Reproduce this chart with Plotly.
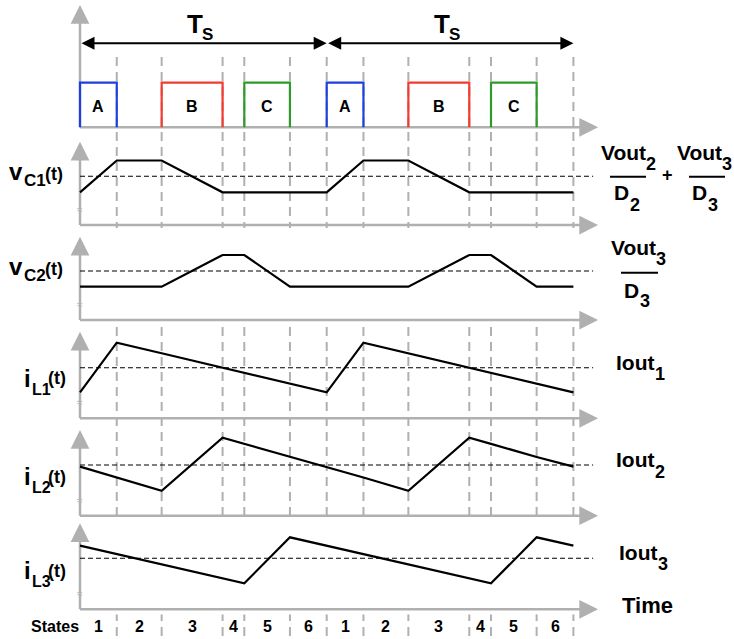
import plotly.graph_objects as go

# ---------------------------------------------------------------
# Switching-state timing diagram of a three-output converter
# Time axis is in units of the switching period Ts.
# ---------------------------------------------------------------

W, H = 734, 639

# state boundaries inside one period (fraction of Ts)
t_edges = [0.0, 0.149, 0.331, 0.578, 0.666, 0.851, 1.0]
n_periods = 2
state_labels = ["1", "2", "3", "4", "5", "6"]

# gate intervals: (label, start edge index, end edge index, colour)
gate_pulses = [("A", 0, 1, "#1c3fe0"), ("B", 2, 3, "#f23a2e"), ("C", 4, 5, "#2e9a2a")]
gate_level = 0.52

# waveform values at each state boundary (normalised panel units)
vc1 = [0.38, 0.75, 0.75, 0.38, 0.38, 0.38, 0.38]
vc2 = [0.387, 0.387, 0.387, 0.756, 0.756, 0.387, 0.387]
il1 = [0.302, 0.879, 0.756, 0.588, 0.529, 0.403, 0.302]
il2 = [0.57, 0.444, 0.29, 0.907, 0.835, 0.683, 0.57]
il3 = [0.74, 0.641, 0.521, 0.359, 0.302, 0.837, 0.74]

# average levels (dashed references)
vc1_avg, vc2_avg = 0.566, 0.57
il1_avg, il2_avg, il3_avg = 0.588, 0.59, 0.593

FONT = "Liberation Sans, Arial, Helvetica, sans-serif"
AX_GREY = "#b0b0b0"
PX_PER_UNIT = 86.0              # vertical pixels per normalised unit
X_LEFT_PX, TS_PX = 80.0, 246.7  # pixel of t=0 and pixels per period
T_END = 2.1                     # end of time-axis arrow
PAD = 0.06                      # small room below each baseline
HEAD_T = 0.05                   # arrowhead stub length along time
HEAD_Y = 12 / PX_PER_UNIT       # arrowhead stub length along value
SUB_KERN = 1.5                  # pull an index towards its main text (px)

# panel baselines (pixels from top) and axis-arrow heights (pixels)
baselines = [127.3, 225.0, 320.0, 418.3, 515.7, 609.3]
arrow_tops = [122.3, 83.3, 83.3, 86.6, 85.7, 86.0]
panel_px = [127.3, 92, 92, 92, 92, 92]


def paper_y(px):
    return 1 - px / H


x_range = [-X_LEFT_PX / TS_PX, (W - X_LEFT_PX) / TS_PX]

fig = go.Figure()
layout_axes = {}
layout_axes["xaxis"] = dict(domain=[0, 1], range=x_range, visible=False, fixedrange=True)
for i, (b, hp) in enumerate(zip(baselines, panel_px)):
    name = "yaxis" if i == 0 else f"yaxis{i + 1}"
    layout_axes[name] = dict(
        domain=[paper_y(b + PAD * PX_PER_UNIT), min(1.0, paper_y(b - hp))],
        range=[-PAD, hp / PX_PER_UNIT],
        visible=False,
        anchor="x",
        fixedrange=True,
    )


def yref(i):
    return "y" if i == 0 else f"y{i + 1}"


def periodic(values):
    ts, ys = [], []
    for p in range(n_periods):
        for k, (t, v) in enumerate(zip(t_edges, values)):
            if p > 0 and k == 0:
                continue
            ts.append(p + t)
            ys.append(v)
    return ts, ys


annotations = []
shapes = []


def label(text, x, baseline, size, xanchor="left", xref="paper"):
    """Bold text placed by its x anchor and its baseline (pixels)."""
    xv = x / W if xref == "paper" else x
    annotations.append(dict(
        x=xv, y=paper_y(baseline - 0.35 * size), xref=xref, yref="paper",
        xanchor=xanchor, yanchor="middle", text=f"<b>{text}</b>", borderpad=0,
        showarrow=False, font=dict(family=FONT, size=size, color="black")))


def with_sub(main, sub, x_join, base, sub_base, size, sub_size):
    """Main text ending at x_join followed by a lowered index."""
    label(main, x_join, base, size, xanchor="right")
    label(sub, x_join - SUB_KERN, sub_base, sub_size, xanchor="left")


# ---- state boundary markers (dashed verticals through all panels)
for p in range(n_periods):
    for t in t_edges[1:]:
        shapes.append(dict(type="line", xref="x", yref="paper",
                           x0=p + t, x1=p + t, y0=paper_y(57), y1=0,
                           line=dict(color=AX_GREY, width=2, dash="9px,6px"),
                           layer="below"))

# ---- axes: lines under the traces, arrowheads on top
for i, (b, top) in enumerate(zip(baselines, arrow_tops)):
    yr = yref(i)
    ytop = top / PX_PER_UNIT
    shapes.append(dict(type="line", xref="x", yref=yr, x0=0, x1=T_END - HEAD_T,
                       y0=0, y1=0, line=dict(color=AX_GREY, width=2.5), layer="below"))
    shapes.append(dict(type="line", xref="x", yref=yr, x0=0, x1=0,
                       y0=0, y1=ytop - HEAD_Y, line=dict(color=AX_GREY, width=2.5),
                       layer="below"))
    annotations.append(dict(x=T_END, y=0, ax=T_END - HEAD_T, ay=0, xref="x", yref=yr,
                            axref="x", ayref=yr, text="", showarrow=True,
                            arrowhead=2, arrowsize=1.5, arrowwidth=2.5,
                            arrowcolor=AX_GREY, standoff=0, startstandoff=0))
    annotations.append(dict(x=0, y=ytop, ax=0, ay=ytop - HEAD_Y, xref="x", yref=yr,
                            axref="x", ayref=yr, text="", showarrow=True,
                            arrowhead=2, arrowsize=1.5, arrowwidth=2.5,
                            arrowcolor=AX_GREY, standoff=0, startstandoff=0))
    if i > 0:
        annotations.append(dict(x=0, y=15.5 / PX_PER_UNIT, xref="x", yref=yr,
                                xanchor="center", yanchor="middle",
                                text="≈", showarrow=False,
                                font=dict(family=FONT, size=10, color=AX_GREY)))

# ---- gate pulses (panel 0)
for p in range(n_periods):
    for lab, a, b, col in gate_pulses:
        t0, t1 = p + t_edges[a], p + t_edges[b]
        fig.add_trace(go.Scatter(
            x=[t0, t0, t1, t1], y=[0, gate_level, gate_level, 0],
            mode="lines", line=dict(color=col, width=2.2),
            yaxis="y", hoverinfo="skip", showlegend=False))
        label(lab, (t0 + t1) / 2, 111.7, 16, xanchor="center", xref="x")

# ---- dashed average references
avgs = [None, vc1_avg, vc2_avg, il1_avg, il2_avg, il3_avg]
for i, a in enumerate(avgs):
    if a is None:
        continue
    fig.add_trace(go.Scatter(
        x=[0, T_END - 0.02], y=[a, a], mode="lines",
        line=dict(color="black", width=1.1, dash="5px,3px"),
        yaxis=yref(i), hoverinfo="skip", showlegend=False))

# ---- waveforms
for i, vals in enumerate([vc1, vc2, il1, il2, il3], start=1):
    ts, ys = periodic(vals)
    fig.add_trace(go.Scatter(
        x=ts, y=ys, mode="lines", line=dict(color="black", width=2.2),
        yaxis=yref(i), hoverinfo="skip", showlegend=False))

# ---- period arrows with Ts labels
ts_y = (127.3 - 43.3) / PX_PER_UNIT
for p in range(n_periods):
    annotations.append(dict(x=p + 1, y=ts_y, ax=p, ay=ts_y, xref="x", yref="y",
                            axref="x", ayref="y", text="", showarrow=True,
                            arrowhead=2, startarrowhead=2, arrowside="end+start",
                            arrowsize=1.3, startarrowsize=1.3, arrowwidth=2,
                            arrowcolor="black", standoff=0, startstandoff=0))
    mid = p + 0.5
    label("T", mid + 0.004, 33.3, 26, xanchor="right", xref="x")
    label("S", mid - 0.008, 40.7, 17, xanchor="left", xref="x")

# ---- state numbers
label("States", 55, 631.7, 16, xanchor="center")
for p in range(n_periods):
    for k, lab in enumerate(state_labels):
        label(lab, p + (t_edges[k] + t_edges[k + 1]) / 2, 631.7, 16,
              xanchor="center", xref="x")

# ---- left signal names:
# (symbol, subscript, join x, baseline, sub drop, "(t)" rise, "(t)" right edge, sub size)
left_labels = [
    ("v", "C1", 24.0, 180.0, 6.7, 0.0, 64.0, 17),
    ("v", "C2", 24.0, 275.0, 6.7, 0.0, 64.0, 17),
    ("i", "L1", 32.0, 386.7, 8.3, -2.0, 67.0, 16),
    ("i", "L2", 32.0, 485.0, 8.3, -2.0, 67.0, 16),
    ("i", "L3", 32.0, 579.3, 8.3, -2.0, 67.0, 16),
]
for sym, sub, xj, base, dsub, dt, xr, ssz in left_labels:
    with_sub(sym, sub, xj, base, base + dsub, 24, ssz)
    label("(t)", xr, base + dt, 18, xanchor="right")

# ---- right-hand average expressions:
# (main, index, join x, main baseline, index baseline)
right_pieces = [
    ("Vout", "2", 646.7, 160.0, 170.0),
    ("D", "2", 630.0, 200.0, 211.7),
    ("Vout", "3", 722.7, 160.0, 170.0),
    ("D", "3", 708.3, 200.0, 211.7),
    ("Vout", "3", 656.7, 255.0, 265.0),
    ("D", "3", 640.0, 298.0, 307.5),
    ("Iout", "1", 655.0, 370.0, 380.0),
    ("Iout", "2", 655.0, 466.7, 478.3),
    ("Iout", "3", 658.3, 560.0, 570.0),
]
for main, sub, xj, base, sbase in right_pieces:
    with_sub(main, sub, xj, base, sbase, 21, 18)
label("+", 667.0, 181.0, 18, xanchor="center")
label("Time", 647.5, 613.3, 22, xanchor="center")

for x0, x1, ypx in [(610, 646, 176.7), (689, 725, 176.7), (621, 658, 272.7)]:
    shapes.append(dict(type="line", xref="paper", yref="paper",
                       x0=x0 / W, x1=x1 / W, y0=paper_y(ypx), y1=paper_y(ypx),
                       line=dict(color="black", width=2)))

fig.update_layout(
    width=W, height=H,
    margin=dict(l=0, r=0, t=0, b=0),
    paper_bgcolor="white", plot_bgcolor="white",
    showlegend=False,
    shapes=shapes, annotations=annotations,
    **layout_axes,
)

fig.write_html("out.html")
